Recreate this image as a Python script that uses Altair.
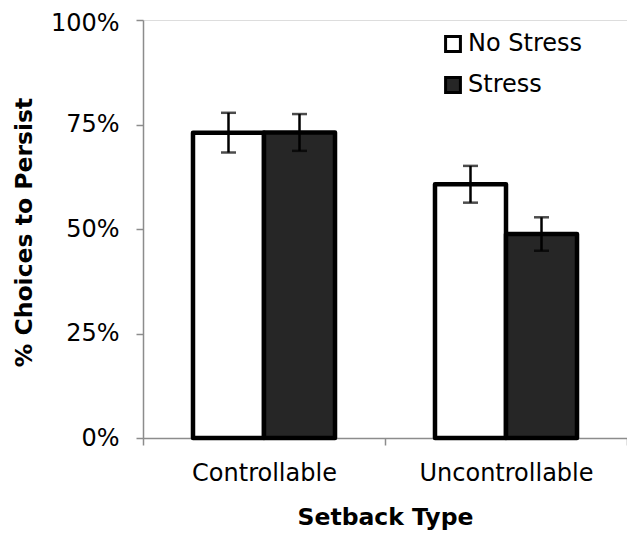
import altair as alt
import pandas as pd

setback = ["Controllable", "Controllable", "Uncontrollable", "Uncontrollable"]
condition = ["No Stress", "Stress", "No Stress", "Stress"]
mean = [0.730, 0.731, 0.607, 0.488]
err_lo = [0.683, 0.687, 0.563, 0.448]
err_hi = [0.778, 0.775, 0.651, 0.528]

df = pd.DataFrame({"Setback": setback, "Condition": condition,
                   "Mean": mean, "Lo": err_lo, "Hi": err_hi})

FONT = "DejaVu Sans"
AX = "#8c8c8c"

x = alt.X("Setback:N", sort=["Controllable", "Uncontrollable"],
          scale=alt.Scale(paddingInner=0, paddingOuter=0),
          axis=alt.Axis(title="Setback Type", labelAngle=0, tickBand="extent",
                        domainColor=AX, tickColor=AX, tickSize=7, tickWidth=1.5,
                        domainWidth=1.5, labelFont=FONT, labelFontSize=24,
                        labelColor="black", labelPadding=16,
                        titleFont=FONT, titleFontSize=23.5, titleFontWeight="bold",
                        titleColor="black", titleX=242, titleY=79,
                        titleBaseline="middle", titleAnchor="middle"))
xo = alt.XOffset("Condition:N", sort=["No Stress", "Stress"],
                 scale=alt.Scale(paddingInner=0, paddingOuter=0.704))
y_scale = alt.Scale(domain=[0, 1], nice=False)

bars = alt.Chart(df).mark_bar(stroke="black", strokeWidth=4.5, strokeJoin="round").encode(
    x=x, xOffset=xo,
    y=alt.Y("Mean:Q", scale=y_scale,
            axis=alt.Axis(title="% Choices to Persist", values=[0, 0.25, 0.5, 0.75, 1],
                          format=".0%", grid=False, domainColor=AX, tickColor=AX,
                          tickSize=7, tickWidth=1.5, domainWidth=1.5,
                          labelFont=FONT, labelFontSize=24, labelColor="black",
                          labelPadding=17,
                          labelOffset={"condition": {"test": "datum.value === 1", "value": 3},
                                       "value": 0},
                          titleFont=FONT, titleFontSize=23.5,
                          titleFontWeight="bold", titleColor="black",
                          titleX=-119, titleY=212, titleBaseline="middle",
                          titleAnchor="middle")),
    fill=alt.Fill("Condition:N", sort=["No Stress", "Stress"],
                  scale=alt.Scale(domain=["No Stress", "Stress"],
                                  range=["#ffffff", "#262626"]),
                  legend=alt.Legend(title=None, orient="none", legendX=298, legendY=12,
                                    symbolType="square", symbolSize=220,
                                    symbolStrokeColor="black", symbolStrokeWidth=3,
                                    labelFont=FONT, labelFontSize=24, labelColor="black",
                                    labelOffset=3, rowPadding=13, padding=0)),
)

rules = alt.Chart(df).mark_rule(color="black", strokeWidth=2.5).encode(
    x=x, xOffset=xo, y="Lo:Q", y2="Hi:Q")
cap_lo = alt.Chart(df).mark_tick(color="black", thickness=2.5, size=15).encode(
    x=x, xOffset=xo, y=alt.Y("Lo:Q", scale=y_scale))
cap_hi = alt.Chart(df).mark_tick(color="black", thickness=2.5, size=15).encode(
    x=x, xOffset=xo, y=alt.Y("Hi:Q", scale=y_scale))

chart = alt.layer(bars, rules, cap_lo, cap_hi).properties(
    width=484, height=418,
    autosize=alt.AutoSizeParams(type="none"),
    padding={"left": 135, "top": 12, "right": 0, "bottom": 100},
).configure_view(stroke=None).configure(background="white")

chart.save("out.html", embed_options={"renderer": "svg", "actions": False})
